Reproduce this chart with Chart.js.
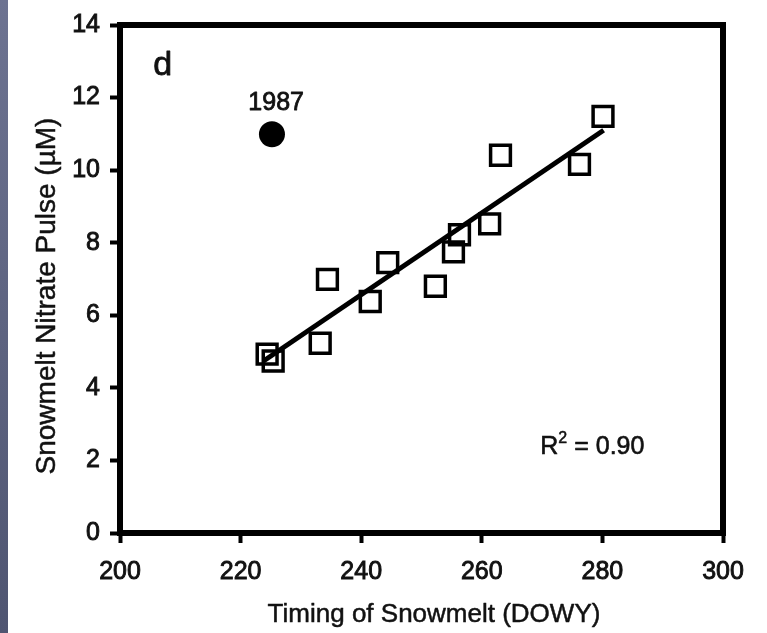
<!DOCTYPE html>
<html>
<head>
<meta charset="utf-8">
<script src="https://cdn.jsdelivr.net/npm/chart.js@4/dist/chart.umd.min.js"></script>
<style>
  html, body { margin: 0; padding: 0; background: #fff; overflow: hidden; }
  #wrap { position: relative; width: 767px; height: 633px; }
  #strip { position: absolute; left: 0; top: 0; width: 8px; height: 633px;
           background: linear-gradient(to bottom, #6d7391, #4f5571); z-index: 2; }
</style>
</head>
<body>
<div id="wrap">
  <div id="strip"></div>
  <canvas id="c"></canvas>
</div>
<script>
// ---- data ----
const dowy    = [224.4, 225.4, 233.2, 234.4, 241.5, 244.4, 252.3, 255.3, 256.3, 261.3, 263.1, 276.2, 280.1];
const nitrate = [4.93, 4.74, 5.23, 6.99, 6.38, 7.45, 6.8, 7.75, 8.22, 8.52, 10.41, 10.16, 11.48];
const outlierX = [225.2];
const outlierY = [10.99];
const fitX = [223.8, 280.2];
const fitY = [4.74, 11.1];
const xTicks = [200, 220, 240, 260, 280, 300];
const yTicks = [0, 2, 4, 6, 8, 10, 12, 14];
const xTitle = 'Timing of Snowmelt (DOWY)';
const yTitle = 'Snowmelt Nitrate Pulse (µM)';
const panelLabel = 'd';
const outlierLabel = '1987';
const r2Text = '0.90';

const FONT = '"Liberation Sans", Arial, Helvetica, sans-serif';
const INK = '#111';

const toPts = (xs, ys) => xs.map((x, i) => ({ x: x, y: ys[i] }));

function heavyText(ctx, txt, x, y, w) {
  ctx.lineWidth = w;
  ctx.strokeStyle = INK;
  ctx.lineJoin = 'round';
  ctx.strokeText(txt, x, y);
  ctx.fillText(txt, x, y);
}

const annotate = {
  id: 'annotate',
  afterDraw(chart) {
    const { ctx, chartArea: a, scales: { x, y } } = chart;
    ctx.save();
    // frame top and right
    ctx.strokeStyle = '#000';
    ctx.lineWidth = 6;
    ctx.lineCap = 'square';
    ctx.beginPath();
    ctx.moveTo(a.left, a.top);
    ctx.lineTo(a.right, a.top);
    ctx.lineTo(a.right, a.bottom);
    ctx.stroke();

    ctx.fillStyle = INK;
    ctx.textAlign = 'center';
    ctx.textBaseline = 'middle';
    // panel letter
    ctx.font = '34px ' + FONT;
    heavyText(ctx, panelLabel, x.getPixelForValue(207.1), y.getPixelForValue(12.88), 0.8);
    // 1987 label
    ctx.font = '25px ' + FONT;
    heavyText(ctx, outlierLabel, x.getPixelForValue(225.9), y.getPixelForValue(11.86), 0.8);
    // R^2
    let px = x.getPixelForValue(269.7), py = y.getPixelForValue(2.36);
    ctx.textAlign = 'left';
    ctx.font = '25px ' + FONT;
    heavyText(ctx, 'R', px, py, 0.6);
    px += ctx.measureText('R').width;
    ctx.font = '16px ' + FONT;
    heavyText(ctx, '2', px, py - 9, 0.5);
    px += ctx.measureText('2').width;
    ctx.font = '25px ' + FONT;
    heavyText(ctx, ' = ' + r2Text, px, py, 0.6);

    // axis titles
    ctx.textAlign = 'center';
    ctx.font = '26px ' + FONT;
    heavyText(ctx, xTitle, 434, 615, 0.5);
    ctx.save();
    ctx.translate(47, 296);
    ctx.rotate(-Math.PI / 2);
    ctx.font = '28px ' + FONT;
    heavyText(ctx, yTitle, 0, 0, 0.5);
    ctx.restore();
    ctx.restore();
  }
};

new Chart(document.getElementById('c'), {
  type: 'scatter',
  data: {
    datasets: [
      {
        label: 'fit',
        type: 'line',
        data: toPts(fitX, fitY),
        borderColor: '#000',
        borderWidth: 5,
        pointRadius: 0,
        fill: false,
        order: 2
      },
      {
        label: 'years',
        data: toPts(dowy, nitrate),
        pointStyle: 'rect',
        pointRadius: 14,
        pointHoverRadius: 14,
        borderWidth: 3.5,
        borderColor: '#000',
        backgroundColor: 'rgba(0,0,0,0)',
        order: 1
      },
      {
        label: '1987',
        data: toPts(outlierX, outlierY),
        pointStyle: 'circle',
        pointRadius: 13,
        pointHoverRadius: 13,
        borderWidth: 0,
        backgroundColor: '#000',
        order: 0
      }
    ]
  },
  options: {
    responsive: true,
    maintainAspectRatio: false,
    animation: false,
    events: [],
    layout: { padding: { left: 0, right: 44, top: 22, bottom: 0 } },
    plugins: { legend: { display: false }, tooltip: { enabled: false } },
    scales: {
      x: {
        type: 'linear',
        min: 200, max: 300,
        afterBuildTicks: (s) => { s.ticks = xTicks.map(v => ({ value: v })); },
        afterFit: (s) => { s.height = 100; },
        ticks: { color: INK, font: { family: FONT, size: 25 }, padding: 14, maxRotation: 0,
                 textStrokeColor: INK, textStrokeWidth: 0.9 },
        grid: { display: true, drawOnChartArea: false, tickLength: 10, tickWidth: 4, color: '#000' },
        border: { display: true, color: '#000', width: 6 },
        title: { display: false }
      },
      y: {
        type: 'linear',
        min: 0, max: 14,
        afterBuildTicks: (s) => { s.ticks = yTicks.map(v => ({ value: v })); },
        afterFit: (s) => { s.width = 120; },
        ticks: { color: INK, font: { family: FONT, size: 25 }, padding: 10,
                 textStrokeColor: INK, textStrokeWidth: 0.9 },
        grid: { display: true, drawOnChartArea: false, tickLength: 10, tickWidth: 4, color: '#000' },
        border: { display: true, color: '#000', width: 6 },
        title: { display: false }
      }
    }
  },
  plugins: [annotate]
});
</script>
</body>
</html>
